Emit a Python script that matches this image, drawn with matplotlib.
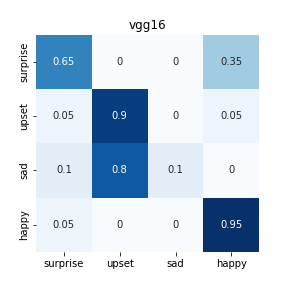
import matplotlib
matplotlib.use("Agg")
import matplotlib.pyplot as plt
import seaborn as sns
import numpy as np

labels = ["surprise", "upset", "sad", "happy"]
surprise_row = [0.65, 0, 0, 0.35]
upset_row = [0.05, 0.9, 0, 0.05]
sad_row = [0.1, 0.8, 0.1, 0]
happy_row = [0.05, 0, 0, 0.95]

cm = np.array([surprise_row, upset_row, sad_row, happy_row])

fig = plt.figure(figsize=(4, 4), dpi=72)
fig.subplots_adjust(left=0.125, right=0.9, top=0.88, bottom=0.125)
ax = sns.heatmap(cm, annot=True, fmt="g", cmap="Blues", cbar=False,
                 xticklabels=labels, yticklabels=labels)
ax.set_title("vgg16")
plt.setp(ax.get_yticklabels(), rotation=90, va="center")
plt.setp(ax.get_xticklabels(), rotation=0)
fig.savefig("out.png", dpi=72)
